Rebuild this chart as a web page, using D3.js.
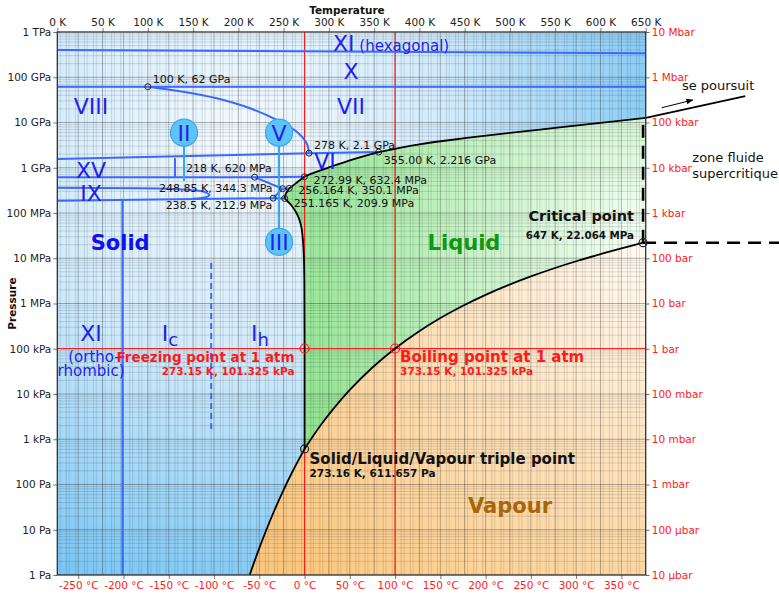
<!DOCTYPE html>
<html><head><meta charset="utf-8">
<script src="https://cdn.jsdelivr.net/npm/d3@7"></script>
<style>body{margin:0;background:#fff;} svg{font-family:"DejaVu Sans",sans-serif;}</style>
</head><body><svg id="c" width="779" height="594"></svg>
<script>
// ---------- data ----------
const kelvinTicks=[0,50,100,150,200,250,300,350,400,450,500,550,600,650];
const celsiusTicks=[-250,-200,-150,-100,-50,0,50,100,150,200,250,300,350];
const pressureTicks=[1,10,100,1e3,1e4,1e5,1e6,1e7,1e8,1e9,1e10,1e11,1e12];
const pascalLabels=["1 Pa","10 Pa","100 Pa","1 kPa","10 kPa","100 kPa","1 MPa","10 MPa","100 MPa","1 GPa","10 GPa","100 GPa","1 TPa"];
const barLabels=["10 µbar","100 µbar","1 mbar","10 mbar","100 mbar","1 bar","10 bar","100 bar","1 kbar","10 kbar","100 kbar","1 Mbar","10 Mbar"];

// phase boundaries [T (K), P (Pa)]
const sublimation=[[212.5,1],[220,2.65],[230,8.9],[240,27.3],[250,76],[260,196],[270,470],[273.16,611.657]];
const vaporization=[[273.16,611.657],[283.15,1228],[293.15,2339],[303.15,4246],[323.15,12350],[348.15,38580],[373.15,101325],[398.15,232100],[423.15,476200],[448.15,892600],[473.15,1.555e6],[498.15,2.548e6],[523.15,3.976e6],[548.15,5.942e6],[573.15,8.588e6],[598.15,1.203e7],[623.15,1.653e7],[647.096,2.2064e7]];
const meltIh=[[273.16,611.657],[273.15,1.01325e5],[272.9,3e6],[272.4,1e7],[271,3e7],[269.5,5e7],[267,7.5e7],[264.2,1e8],[258.3,1.5e8],[252.3,2e8],[251.165,2.099e8]];
const meltIII=[[251.165,2.099e8],[251.6,2.4e8],[253,2.8e8],[255,3.2e8],[256.164,3.501e8]];
const meltV=[[256.164,3.501e8],[260,4e8],[265,4.8e8],[270,5.7e8],[272.99,6.324e8]];
const meltVI=[[272.99,6.324e8],[280,7.3e8],[290,8.6e8],[300,1.02e9],[320,1.38e9],[340,1.82e9],[355,2.216e9]];
const meltVII=[[355,2.216e9],[400,3.3e9],[450,4.5e9],[500,5.9e9],[550,7.6e9],[600,9.8e9],[650,1.27e10]];
const meltVIIBeyond=[[650,1.27e10],[760,3.85e10]];
const criticalIsotherm=[[647.096,2.2064e7],[647.096,8.8e9]];
const criticalIsobar=[[647.096,2.2064e7],[800,2.2064e7]];
const continuesArrow=[[667.7,2.12e10],[702,3.14e10]];

// ice-ice boundaries
const iceLines=[
  [[0,4.0e11],[650,3.4e11]],
  [[0,6.2e10],[650,6.2e10]],
  [[100,6.2e10],[138.9,4.8e10],[176.1,3.43e10],[212.9,2.06e10],[242.4,1.14e10],[264.5,6.27e9],[275.5,3.47e9],[278,2.1e9]],
  [[0,1.56e9],[278,2.1e9]],
  [[278,2.1e9],[355,2.216e9]],
  [[0,6.2e8],[218,6.2e8]],
  [[218,6.2e8],[272.99,6.324e8]],
  [[130,6.2e8],[130,1.62e9]],
  [[218,6.2e8],[248.85,3.443e8]],
  [[238.5,2.129e8],[248.85,3.443e8]],
  [[248.85,3.443e8],[256.164,3.501e8]],
  [[238.5,2.129e8],[251.165,2.099e8]],
  [[0,3.62e8],[120,3.45e8],[150,3.2e8],[163,2.9e8],[168,2.5e8],[163,2.2e8],[150,2.08e8]],
  [[0,1.87e8],[238.5,2.129e8]],
  [[72,1.87e8],[72,1]]
];
const icIhBoundary=[[170,7.85e6],[170,1.6e3]];

// labelled points
const keyPoints=[
  {T:100,P:6.2e10,text:"100 K, 62 GPa",dx:5,dy:-4,anchor:"start"},
  {T:278,P:2.1e9,text:"278 K, 2.1 GPa",dx:5,dy:-4,anchor:"start"},
  {T:355,P:2.216e9,text:"355.00 K, 2.216 GPa",dx:5,dy:12,anchor:"start"},
  {T:218,P:6.2e8,text:"218 K, 620 MPa",dx:17,dy:-5,anchor:"end"},
  {T:248.85,P:3.443e8,text:"248.85 K, 344.3 MPa",dx:-10,dy:3,anchor:"end"},
  {T:238.5,P:2.129e8,text:"238.5 K, 212.9 MPa",dx:-1,dy:11,anchor:"end"},
  {T:272.99,P:6.324e8,text:"272.99 K, 632.4 MPa",dx:9,dy:7,anchor:"start"},
  {T:256.164,P:3.501e8,text:"256.164 K, 350.1 MPa",dx:9,dy:6,anchor:"start"},
  {T:251.165,P:2.099e8,text:"251.165 K, 209.9 MPa",dx:9,dy:9,anchor:"start"}
];
const phaseNames=[
  {text:"VIII",T:37.3,P:1.54e10},{text:"VII",T:324.5,P:1.54e10},{text:"X",T:324.5,P:9.1e10},
  {text:"VI",T:295.8,P:9.4e8},{text:"XV",T:37.3,P:5.9e8},{text:"IX",T:37.3,P:1.84e8},
  {text:"XI",T:37.3,P:1.48e5}
];
const circledPhases=[
  {text:"II",T:140,P:5.96e9,toP:5.1e8},
  {text:"V",T:245,P:5.96e9,toP:3.6e8},
  {text:"III",T:245,P:2.29e7,toP:3.6e8}
];

// ---------- scales ----------
const svg=d3.select("#c");
const X0=57.3,X1=645.7,Y0=32,Y1=575;
const x=d3.scaleLinear().domain([0,650]).range([X0,X1]);
const y=d3.scaleLog().domain([1,1e12]).range([Y1,Y0]);
const xc=d3.scaleLinear().domain([-273.15,376.85]).range([X0,X1]);
const line=d3.line().x(d=>x(d[0])).y(d=>y(d[1])).curve(d3.curveCatmullRom.alpha(0.5));
const straight=d3.line().x(d=>x(d[0])).y(d=>y(d[1]));
function joined(segs){return segs.map((s,i)=>{const p=line(s);return i?p.replace(/^M/,"L"):p;}).join("")+"Z";}

const defs=svg.append("defs");
defs.append("clipPath").attr("id","clip").append("rect").attr("x",X0).attr("y",Y0).attr("width",X1-X0).attr("height",Y1-Y0);
function radial(id,cx,cy,r,stops){
  const g=defs.append("radialGradient").attr("id",id).attr("gradientUnits","userSpaceOnUse").attr("cx",cx).attr("cy",cy).attr("r",r);
  stops.forEach(s=>g.append("stop").attr("offset",s[0]).attr("stop-color",s[1]));
}
const cpx=x(647.096),cpy=y(2.2064e7);
radial("gSolid",x(200),y(3e9),480,[[0,"#f6fbff"],[0.45,"#d0eafb"],[1,"#74c3f3"]]);
radial("gLiquid",cpx,cpy,420,[[0,"#f6fff6"],[1,"#86e086"]]);
radial("gVapour",cpx,cpy,470,[[0,"#fffaf3"],[1,"#fbc77f"]]);
const mk=defs.append("marker").attr("id","arr").attr("viewBox","0 0 10 10").attr("refX",9).attr("refY",5).attr("markerWidth",7).attr("markerHeight",7).attr("orient","auto");
mk.append("path").attr("d","M0,1L10,5L0,9Z").attr("fill","#000");

const plot=svg.append("g").attr("clip-path","url(#clip)");
plot.append("rect").attr("x",X0).attr("y",Y0).attr("width",X1-X0).attr("height",Y1-Y0).attr("fill","url(#gSolid)");
plot.append("path").attr("d",joined([meltIh,meltIII,meltV,meltVI,meltVII,[[650,1.27e10],[650,2.2064e7],[647.096,2.2064e7]],vaporization.slice().reverse()])).attr("fill","url(#gLiquid)");
plot.append("path").attr("d",joined([[[212.5,1]],sublimation,vaporization,[[647.096,2.2064e7],[650,2.2064e7],[650,1],[212.5,1]]])).attr("fill","url(#gVapour)");

// grid
const grid=plot.append("g");
const kMinor=d3.range(0,651,10), cMinor=d3.range(-270,380,10);
kMinor.forEach(t=>grid.append("line").attr("x1",x(t)).attr("x2",x(t)).attr("y1",Y0).attr("y2",Y1).attr("stroke","#000").attr("stroke-opacity",t%50===0?0.38:0.16).attr("stroke-width",0.8));
cMinor.forEach(t=>grid.append("line").attr("x1",xc(t)).attr("x2",xc(t)).attr("y1",Y0).attr("y2",Y1).attr("stroke","#000").attr("stroke-opacity",t%50===0?0.32:0.13).attr("stroke-width",0.8));
pressureTicks.slice(0,-1).forEach(p=>{
  [1,2,3,4,5,6,7,8,9].forEach(m=>{const v=p*m;grid.append("line").attr("x1",X0).attr("x2",X1).attr("y1",y(v)).attr("y2",y(v)).attr("stroke","#000").attr("stroke-opacity",m===1?0.38:0.16).attr("stroke-width",0.8);});
});

// red reference lines
const red="#ff1a1a";
[273.15,373.15].forEach(t=>plot.append("line").attr("x1",x(t)).attr("x2",x(t)).attr("y1",Y0).attr("y2",Y1).attr("stroke",red).attr("stroke-width",1.2));
plot.append("line").attr("x1",X0).attr("x2",X1).attr("y1",y(101325)).attr("y2",y(101325)).attr("stroke",red).attr("stroke-width",1.2);

// ice boundaries
const blue="#3b68ff";
iceLines.forEach(seg=>plot.append("path").attr("d",line(seg)).attr("fill","none").attr("stroke",blue).attr("stroke-width",2));
plot.append("path").attr("d",straight(icIhBoundary)).attr("stroke",blue).attr("stroke-width",2).attr("stroke-dasharray","6,4");

// phase boundaries
[sublimation,vaporization,meltIh,meltIII,meltV,meltVI,meltVII].forEach(seg=>plot.append("path").attr("d",line(seg)).attr("fill","none").attr("stroke","#000").attr("stroke-width",1.8));
svg.append("path").attr("d",straight(meltVIIBeyond)).attr("stroke","#000").attr("stroke-width",1.8);
svg.append("path").attr("d",straight(continuesArrow)).attr("stroke","#000").attr("stroke-width",1).attr("marker-end","url(#arr)");
[criticalIsotherm,criticalIsobar].forEach(seg=>svg.append("path").attr("d",straight(seg)).attr("stroke","#000").attr("stroke-width",2.6).attr("stroke-dasharray","13,8"));

// circled phase labels
circledPhases.forEach(c=>{
  plot.append("line").attr("x1",x(c.T)).attr("x2",x(c.T)).attr("y1",y(c.P)).attr("y2",y(c.toP)).attr("stroke","#2ea6f2").attr("stroke-width",2);
});
circledPhases.forEach(c=>{
  plot.append("circle").attr("cx",x(c.T)).attr("cy",y(c.P)).attr("r",13.5).attr("fill","#5ec3f7").attr("stroke","#3aa6ee").attr("stroke-width",1.2);
  plot.append("text").attr("x",x(c.T)).attr("y",y(c.P)+8).attr("text-anchor","middle").attr("font-size",22).attr("fill","#1f1fef").text(c.text);
});

// key points
keyPoints.forEach(k=>{
  svg.append("circle").attr("cx",x(k.T)).attr("cy",y(k.P)).attr("r",3).attr("fill","none").attr("stroke","#222").attr("stroke-width",1);
  svg.append("text").attr("x",x(k.T)+k.dx).attr("y",y(k.P)+k.dy).attr("text-anchor",k.anchor).attr("font-size",11).attr("fill","#111").text(k.text);
});

// phase names
const iceBlue="#1f1fef";
phaseNames.forEach(p=>svg.append("text").attr("x",x(p.T)).attr("y",y(p.P)).attr("text-anchor","middle").attr("font-size",22).attr("fill",iceBlue).text(p.text));
const xiHex=svg.append("text").attr("x",x(304.6)).attr("y",y(3.8e11)).attr("font-size",22).attr("fill",iceBlue);
xiHex.append("tspan").text("XI");xiHex.append("tspan").attr("font-size",15).text(" (hexagonal)");
svg.append("text").attr("x",x(40.5)).attr("y",y(5.1e4)).attr("text-anchor","middle").attr("font-size",15).attr("fill",iceBlue).text("(ortho-");
svg.append("text").attr("x",x(37.3)).attr("y",y(2.5e4)).attr("text-anchor","middle").attr("font-size",15).attr("fill",iceBlue).text("rhombic)");
[["I","c",124.5],["I","h",223.9]].forEach(d=>{
  const t=svg.append("text").attr("x",x(d[2])).attr("y",y(1.48e5)).attr("text-anchor","middle").attr("font-size",22).attr("fill",iceBlue);
  t.append("tspan").text(d[0]);t.append("tspan").attr("dy",5).attr("font-size",18).text(d[1]);
});
svg.append("text").attr("x",x(69.4)).attr("y",y(1.52e7)).attr("text-anchor","middle").attr("font-size",21).attr("font-weight","bold").attr("fill","#1010f0").text("Solid");
svg.append("text").attr("x",x(449.3)).attr("y",y(1.52e7)).attr("text-anchor","middle").attr("font-size",21).attr("font-weight","bold").attr("fill","#0c9a0c").text("Liquid");
svg.append("text").attr("x",x(500.1)).attr("y",y(23.4)).attr("text-anchor","middle").attr("font-size",21).attr("font-weight","bold").attr("fill","#a8660a").text("Vapour");

// special points
const fp=[273.15,101325],bp=[373.15,101325],tp=[273.16,611.657],cp=[647.096,2.2064e7];
[fp,bp].forEach(p=>svg.append("circle").attr("cx",x(p[0])).attr("cy",y(p[1])).attr("r",4.5).attr("fill","none").attr("stroke",red).attr("stroke-width",1.2));
[tp,cp].forEach(p=>svg.append("circle").attr("cx",x(p[0])).attr("cy",y(p[1])).attr("r",4).attr("fill","none").attr("stroke","#222").attr("stroke-width",1.2));
function note(p,dx,dy,anchor,size,color,txt){svg.append("text").attr("x",x(p[0])+dx).attr("y",y(p[1])+dy).attr("text-anchor",anchor).attr("font-size",size).attr("font-weight","bold").attr("fill",color).text(txt);}
note(fp,-10,14,"end",13.5,red,"Freezing point at 1 atm");
note(fp,-10,27,"end",10.5,red,"273.15 K, 101.325 kPa");
note(bp,5,14,"start",15,red,"Boiling point at 1 atm");
note(bp,5,27,"start",10.5,red,"373.15 K, 101.325 kPa");
note(tp,5,15,"start",15,"#111","Solid/Liquid/Vapour triple point");
note(tp,5,28,"start",10.5,"#111","273.16 K, 611.657 Pa");
note(cp,-9,-22,"end",14.5,"#111","Critical point");
note(cp,-9,-4,"end",10.3,"#111","647 K, 22.064 MPa");

svg.append("text").attr("x",x(690)).attr("y",y(5.2e10)).attr("font-size",13).attr("fill","#111").text("se poursuit");
svg.append("text").attr("x",x(701.5)).attr("y",y(1.34e9)).attr("font-size",13).attr("fill","#111").text("zone fluide");
svg.append("text").attr("x",x(701.5)).attr("y",y(5.9e8)).attr("font-size",13).attr("fill","#111").text("supercritique");

// axes
function styleAxis(g,color){g.select(".domain").remove();g.selectAll(".tick line").attr("stroke","#777");g.selectAll("text").attr("fill",color).attr("font-size",10.5).attr("font-family","DejaVu Sans");}
svg.append("g").attr("transform",`translate(0,${Y0})`).call(d3.axisTop(x).tickValues(kelvinTicks).tickFormat(d=>d+" K").tickSize(4).tickPadding(2)).call(g=>styleAxis(g,"#222"));
svg.append("g").attr("transform",`translate(0,${Y1})`).call(d3.axisBottom(xc).tickValues(celsiusTicks).tickFormat(d=>d+" °C").tickSize(4).tickPadding(3)).call(g=>styleAxis(g,red));
svg.append("g").attr("transform",`translate(${X0},0)`).call(d3.axisLeft(y).tickValues(pressureTicks).tickFormat((d,i)=>pascalLabels[i]).tickSize(4).tickPadding(2)).call(g=>styleAxis(g,"#222"));
svg.append("g").attr("transform",`translate(${X1},0)`).call(d3.axisRight(y).tickValues(pressureTicks).tickFormat((d,i)=>barLabels[i]).tickSize(4).tickPadding(2)).call(g=>styleAxis(g,red));
svg.append("rect").attr("x",X0).attr("y",Y0).attr("width",X1-X0).attr("height",Y1-Y0).attr("fill","none").attr("stroke","#333").attr("stroke-width",1.3);
svg.append("text").attr("x",x(320)).attr("y",14).attr("text-anchor","middle").attr("font-size",10.5).attr("font-weight","bold").attr("fill","#111").text("Temperature");
svg.append("text").attr("transform",`translate(16,${y(1e6)}) rotate(-90)`).attr("text-anchor","middle").attr("font-size",10.5).attr("font-weight","bold").attr("fill","#111").text("Pressure");
</script></body></html>
